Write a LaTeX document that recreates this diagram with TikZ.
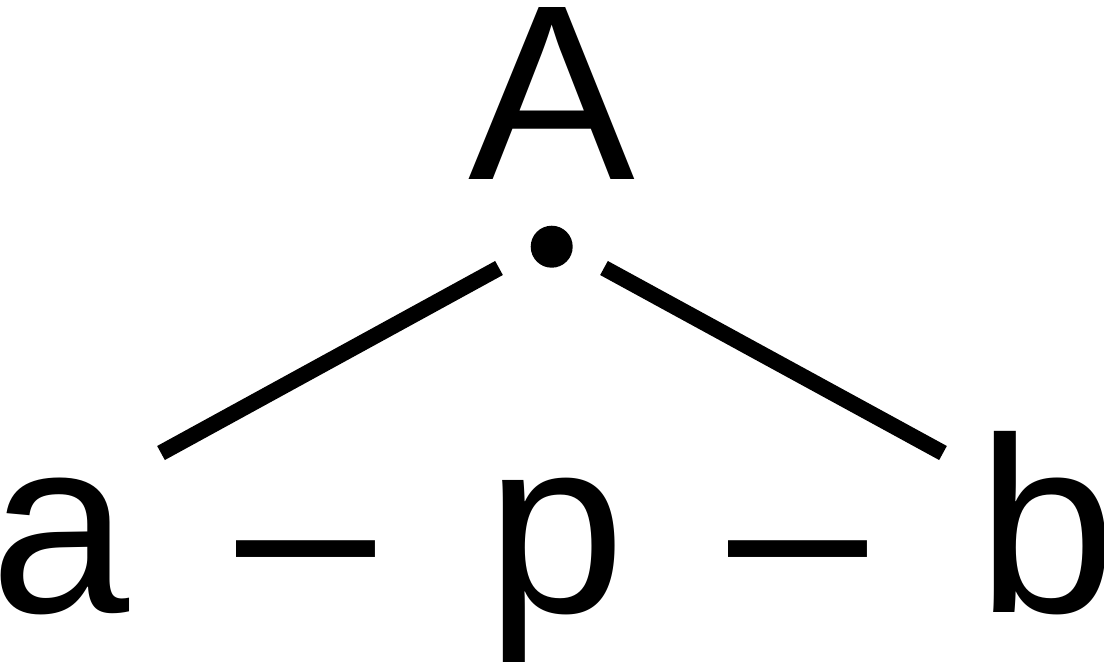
\documentclass[tikz,border=0pt]{standalone}
\usepackage{fontspec}
\setmainfont{Liberation Sans}
\usepackage{tikz}

\begin{document}
\begin{tikzpicture}[x=0.5pt,y=-0.5pt]
\tikzset{
  letter/.style={inner sep=0,anchor=base,font=\fontsize{125}{150}\selectfont},
  bond/.style={line width=8pt}
}
\useasboundingbox (0,0) rectangle (1104,661);
\node[letter] (A) at (551.5,179) {A};
\node[shape=circle,fill=black,inner sep=0,minimum size=21pt] (dot) at (551.7,246.7) {};
\node[letter] (a) at (60,612) {a};
\node[letter] (d1) at (306.5,612) {–};
\node[letter] (p) at (556,612) {p};
\node[letter] (d2) at (798,612) {–};
\node[letter] (b) at (1047,612) {b};
\coordinate (dl) at (499,268);
\coordinate (dr) at (604,268);
\coordinate (al) at (161,453);
\coordinate (br) at (943,453);
\draw[bond] (dl)--(al);
\draw[bond] (dr)--(br);
\end{tikzpicture}
\end{document}
